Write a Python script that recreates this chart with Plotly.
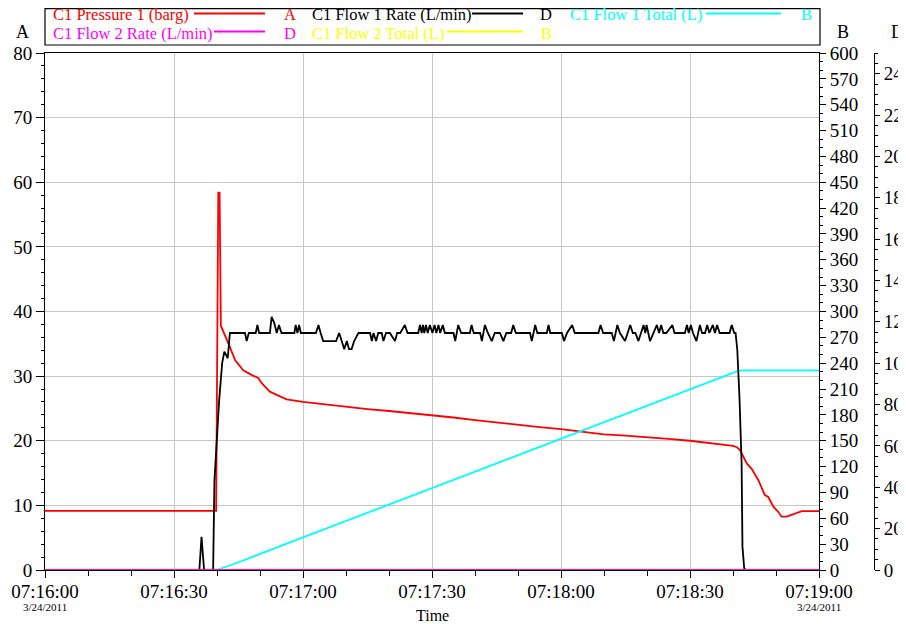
import datetime
import plotly.graph_objects as go

BASE = datetime.datetime(2011, 3, 24, 7, 16, 0)

# ---------------- data (seconds after 07:16:00) ----------------
series_names = ["C1 Pressure 1 (barg)", "C1 Flow 1 Rate (L/min)", "C1 Flow 1 Total (L)",
                "C1 Flow 2 Rate (L/min)", "C1 Flow 2 Total (L)"]
series_axis = ["A", "D", "B", "D", "B"]
series_colors = ["#ff0000", "#000000", "#00ffff", "#ff00ff", "#ffff00"]

press_t = [0, 39.8, 40.3, 40.6, 40.9, 41.5, 43.0, 44.2, 46.1, 48.0,
           49.6, 50.4, 52.3, 53.9, 56.2,
           60, 65, 70, 75, 80, 85, 90, 95, 100, 105,
           110, 115, 120, 125, 130, 135, 140, 145, 150, 155,
           160, 160.9, 161.6, 163.2, 164.3, 165.9, 167.4, 168.2, 169.4, 170.5,
           171.3, 172.5, 176.0, 180]
press_v = [9.15, 9.15, 58.4, 58.4, 37.8, 36.9, 34.5, 32.5, 30.9, 30.2,
           29.7, 28.9, 27.6, 27.1, 26.4,
           26.0, 25.6, 25.2, 24.9, 24.6, 24.3, 24.0, 23.6, 23.2, 22.8,
           22.4, 22.1, 21.8, 21.4, 21.0, 20.8, 20.6, 20.3, 20.0, 19.6,
           19.2, 19.0, 18.6, 16.5, 15.7, 13.9, 11.6, 11.3, 9.8, 9.0,
           8.25, 8.25, 9.1, 9.1]

flow1_t = [0, 35.9, 36.4, 37.0, 39.1, 39.4, 40.5, 41.2, 41.7, 42.5, 43.0,
           46.5, 46.9, 47.4, 49.0, 49.4, 49.8, 52.3, 52.7, 53.3, 53.9, 54.4, 55.0,
           58.0, 58.3, 58.7, 59.1, 59.5, 63.0, 63.6, 64.1, 64.7, 67.7, 68.4, 69.0,
           69.6, 70.2, 70.7, 71.3, 71.9, 72.9,
           75.6, 76.0, 76.4, 77.0, 77.5, 78.3, 78.7, 79.3, 80.2, 81.4, 81.9, 82.6, 83.7, 84.3,
           86.8, 87.2, 87.6, 87.9, 88.2, 88.6, 89.0, 89.5, 90.1, 90.6, 91.0, 91.5, 91.9, 92.5, 93.0,
           95.0, 95.4, 96.1, 96.8, 98.8, 99.2, 99.7, 101.2, 101.6, 102.3, 103.0, 103.9, 104.6,
           105.8, 106.6, 107.3,
           108.4, 108.9, 109.5, 112.8, 113.2, 114.0, 114.5, 116.7, 117.1, 117.5, 120.2, 120.7,
           121.4, 122.6, 123.2,
           128.7, 129.2, 129.8, 131.8, 132.3, 133.1, 133.7, 134.9, 136.1, 136.7, 137.3, 138.0,
           139.2, 139.6, 139.9, 140.7, 141.5, 142.3, 142.8, 143.3, 143.8, 144.5,
           145.9, 146.4, 148.8, 149.3, 149.7, 150.2, 150.7, 151.5, 152.3, 152.8, 153.5, 154.0,
           154.5, 155.3, 155.8, 156.3, 156.9, 159.2, 159.7, 160.3, 160.6,
           161.0, 161.5, 162.0, 162.2, 162.6, 162.9, 180]
flow1_v = [0, 0, 16.0, 0, 0, 43.0, 82.0, 100.0, 105.6, 102.4, 114.6,
           114.6, 110.7, 114.6, 114.6, 118.5, 114.6, 114.6, 122.4, 119.5, 114.6, 118.5, 114.6,
           114.6, 118.5, 114.6, 118.5, 114.6, 114.6, 118.5, 114.6, 110.7, 110.7, 114.6, 110.7,
           106.8, 110.7, 106.8, 106.8, 110.7, 114.6,
           114.6, 110.7, 114.6, 110.7, 114.6, 114.6, 110.7, 114.6, 114.6, 110.7, 114.6, 114.6, 118.5, 114.6,
           114.6, 118.5, 114.6, 118.5, 114.6, 118.5, 114.6, 118.5, 114.6, 118.5, 114.6, 118.5, 114.6, 118.5, 114.6,
           114.6, 110.7, 118.5, 114.6, 114.6, 118.5, 114.6, 114.6, 110.7, 118.5, 114.6, 110.7, 114.6,
           114.6, 110.7, 114.6,
           114.6, 118.5, 114.6, 114.6, 110.7, 118.5, 114.6, 114.6, 118.5, 114.6, 114.6, 110.7,
           114.6, 118.5, 114.6,
           114.6, 118.5, 114.6, 114.6, 110.7, 118.5, 114.6, 110.7, 118.5, 114.6, 114.6, 110.7,
           118.5, 114.6, 118.5, 110.7, 114.6, 118.5, 114.6, 118.5, 114.6, 114.6,
           118.5, 114.6, 114.6, 118.5, 114.6, 118.5, 114.6, 110.7, 118.5, 114.6, 114.6, 118.5,
           114.6, 118.5, 114.6, 118.5, 114.6, 114.6, 118.5, 114.6, 114.6,
           106.4, 83.8, 51.7, 11.3, 1.0, 0, 0]

total1_t = [0, 39.6, 41.0, 43.0, 60, 80, 100, 120, 140, 161.2, 162.5, 180]
total1_v = [0, 0, 1.8, 5.2, 37.8, 76.0, 114.3, 152.5, 190.8, 231.0, 231.6, 231.6]

flow2_t = [0, 180]
flow2_v = [0, 0]
total2_t = [0, 180]
total2_v = [0, 0]

# ---------------- geometry helpers ----------------
# The page body adds an 8 px offset, so the figure is drawn 8 px smaller and
# every reference pixel coordinate is shifted by OFF.
OFF = 8
W, H = 906 - OFF, 624 - OFF
L_PX, R_PX, T_PX, B_PX = 45 - OFF, 874 - OFF, 53 - OFF, 570 - OFF   # paper box in figure pixels
PLOT_R = 819 - OFF                                                  # right edge of plot area


def px(x):
    """reference-screen x -> paper fraction"""
    return (x - OFF - L_PX) / (R_PX - L_PX)


def py(y):
    """reference-screen y -> paper fraction"""
    return (B_PX - (y - OFF)) / (B_PX - T_PX)


def to_dt(secs):
    return [BASE + datetime.timedelta(seconds=s) for s in secs]


FONT = "Liberation Serif, Times New Roman, serif"

fig = go.Figure()
data_sets = [(press_t, press_v, "y"), (flow1_t, flow1_v, "y3"), (total1_t, total1_v, "y2"),
             (flow2_t, flow2_v, "y3"), (total2_t, total2_v, "y2")]
widths = [1.8, 1.8, 1.8, 2.0, 2.6]
for (tt, vv, ax), name, col, w in zip(data_sets, series_names, series_colors, widths):
    fig.add_trace(go.Scatter(x=to_dt(tt), y=vv, yaxis=ax, name=name, mode="lines",
                             line=dict(color=col, width=w), showlegend=False))

grid = "#c8c8c8"
fig.update_layout(
    width=W, height=H, template="none",
    margin=dict(l=L_PX, r=W - R_PX, t=T_PX, b=H - B_PX, pad=0),
    paper_bgcolor="white", plot_bgcolor="white",
    font=dict(family=FONT, color="black", size=19),
    xaxis=dict(
        type="date", domain=[0, (PLOT_R - L_PX) / (R_PX - L_PX)],
        range=[BASE, BASE + datetime.timedelta(seconds=180)],
        tick0=BASE, dtick=30000, tickformat="%H:%M:%S",
        ticks="outside", ticklen=7, tickcolor="black", tickwidth=1,
        ticklabelstandoff=-3,
        showline=True, linecolor="black", linewidth=1, mirror=True,
        showgrid=True, gridcolor=grid, gridwidth=1, zeroline=False,
        minor=dict(dtick=10000, ticks="outside", ticklen=5, tickcolor="black", showgrid=False),
        tickfont=dict(family=FONT, size=19),
        automargin=False,
    ),
    yaxis=dict(
        range=[0, 80], dtick=10, ticks="outside", ticklen=8, tickcolor="black",
        showline=True, linecolor="black", linewidth=1, mirror=True,
        showgrid=True, gridcolor=grid, zeroline=False,
        minor=dict(dtick=2, ticks="outside", ticklen=3, tickcolor="black", showgrid=False),
        tickfont=dict(family=FONT, size=19), automargin=False,
    ),
    yaxis2=dict(
        overlaying="y", side="right", anchor="x", range=[0, 600], dtick=30,
        ticks="outside", ticklen=6, tickcolor="black",
        showline=True, linecolor="black", showgrid=False, zeroline=False,
        minor=dict(dtick=10, ticks="outside", ticklen=3, tickcolor="black", showgrid=False),
        tickfont=dict(family=FONT, size=19), automargin=False,
    ),
    yaxis3=dict(
        overlaying="y", side="right", anchor="free", position=1.0, range=[0, 250], dtick=20,
        ticks="outside", ticklen=5, tickcolor="black",
        showline=True, linecolor="black", showgrid=False, zeroline=False,
        minor=dict(dtick=5, ticks="outside", ticklen=3, tickcolor="black", showgrid=False),
        tickfont=dict(family=FONT, size=19), automargin=False,
    ),
)

annotations = []
shapes = []

# axis letters
for letter, xp in [("A", 22), ("B", 843), ("D", 897)]:
    annotations.append(dict(text=letter, x=px(xp), y=py(32), xref="paper", yref="paper",
                            xanchor="center", yanchor="middle", showarrow=False,
                            font=dict(family=FONT, size=18, color="black")))

# x-axis title
annotations.append(dict(text="Time", x=px(432), y=py(615), xref="paper", yref="paper",
                        xanchor="center", yanchor="middle", showarrow=False,
                        font=dict(family=FONT, size=16, color="black")))

# date labels under the first and last ticks
for s in [0, 180]:
    annotations.append(dict(text="3/24/2011", x=BASE + datetime.timedelta(seconds=s), xref="x",
                            y=py(607), yref="paper", xanchor="center", yanchor="middle",
                            showarrow=False, font=dict(family=FONT, size=11, color="black")))

# custom legend box
shapes.append(dict(type="rect", xref="paper", yref="paper", x0=px(45), x1=px(820),
                   y0=py(45), y1=py(OFF + 0.6), line=dict(color="black", width=1.2),
                   fillcolor="white", layer="above"))
legend_text_x = [51, 310, 568, 51, 310]
legend_line = [(194, 265), (472, 523), (706, 781), (214, 265), (447, 523)]
legend_letter_x = [290, 546, 806, 290, 546]
legend_row_y = [15, 15, 15, 33, 33]
for i in range(5):
    c = series_colors[i]
    annotations.append(dict(text=series_names[i], x=px(legend_text_x[i]), y=py(legend_row_y[i]),
                            xref="paper", yref="paper", xanchor="left", yanchor="middle",
                            showarrow=False, font=dict(family=FONT, size=16.5, color=c)))
    annotations.append(dict(text=series_axis[i], x=px(legend_letter_x[i]), y=py(legend_row_y[i]),
                            xref="paper", yref="paper", xanchor="center", yanchor="middle",
                            showarrow=False, font=dict(family=FONT, size=16.5, color=c)))
    x0, x1 = legend_line[i]
    shapes.append(dict(type="line", xref="paper", yref="paper", x0=px(x0), x1=px(x1),
                       y0=py(legend_row_y[i] - 1.5), y1=py(legend_row_y[i] - 1.5),
                       line=dict(color=c, width=2), layer="above"))

fig.update_layout(annotations=annotations, shapes=shapes)
fig.write_html("out.html")
